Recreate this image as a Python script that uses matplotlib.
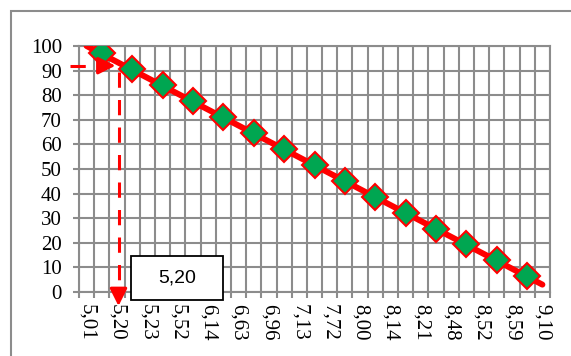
import numpy as np
import matplotlib.pyplot as plt
from matplotlib.patches import Rectangle

# Etiquetas del eje X (una de cada dos categorías)
x_labels = ['5,01', '5,20', '5,23', '5,52', '6,14', '6,63', '6,96', '7,13',
            '7,72', '8,00', '8,14', '8,21', '8,48', '8,52', '8,59', '9,10']
# Valores de los puntos (categorías impares)
values = [97, 90.5, 84, 77.5, 71, 64.5, 58, 51.5, 45, 38.5, 32, 25.5, 19.5, 13, 6.5]
# Recta de tendencia (primera y última categoría)
trend_values = [100, 3]
# Lectura marcada con flechas
read_label = '5,20'
read_value = 92

n_cat = 2 * len(x_labels) - 1
label_pos = np.arange(len(x_labels)) * 2 + 0.5
point_pos = np.arange(len(values)) * 2 + 1.5
trend_pos = [label_pos[0], label_pos[-1]]

grid_color = '#8c8c8c'
plt.rcParams['font.family'] = ['Liberation Serif', 'DejaVu Serif']

fig = plt.figure(figsize=(5.71, 3.56), dpi=100)
ax = fig.add_axes([79 / 571, 1 - 292 / 356, 471 / 571, 246 / 356])

ax.plot(trend_pos, trend_values, color='red', lw=4.3, solid_capstyle='round', zorder=3)
ax.plot(point_pos, values, ls='none', marker='D', ms=13.5, mfc='#00a651',
        mec='red', mew=1.5, zorder=4)

ax.set_xlim(0, n_cat)
ax.set_ylim(0, 100)

ax.set_xticks(np.arange(0, n_cat + 1), minor=True)
ax.set_xticks(label_pos, x_labels, rotation=-90, fontsize=15)
ax.set_yticks(np.arange(0, 101, 10))
ax.tick_params(axis='x', which='major', length=0, pad=9)
ax.tick_params(axis='x', which='minor', length=4.3, width=1.5, color=grid_color)
ax.tick_params(axis='y', length=4.3, width=1.5, color=grid_color, pad=8, labelsize=15)
ax.grid(axis='x', which='minor', color=grid_color, lw=1.5)
ax.grid(axis='y', which='major', color=grid_color, lw=1.5)
for s in ax.spines.values():
    s.set_color(grid_color)
    s.set_linewidth(1.5)
ax.set_axisbelow(True)

# Flechas de lectura
x_read = label_pos[x_labels.index(read_label)] + 0.1
head = dict(arrowstyle='-|>,head_length=0.8,head_width=0.4', color='red',
            lw=2.2, mutation_scale=13, shrinkA=0, shrinkB=0)
dash = dict(color='red', lw=2.2, dashes=(5, 4), clip_on=False, zorder=5)
ax.plot([-0.6, x_read - 1.0], [read_value, read_value], **dash)
ax.annotate('', xy=(x_read - 0.2, read_value), xytext=(x_read - 1.1, read_value),
            arrowprops=head, annotation_clip=False, zorder=5)
ax.plot([x_read, x_read], [read_value - 2.5, -0.5], **dash)
ax.annotate('', xy=(x_read, -5.7), xytext=(x_read, 0.5),
            arrowprops=head, annotation_clip=False, zorder=5)

# Cuadro con el valor leído
ax.add_patch(Rectangle((3.42, -3.25), 6.05, 17.85, facecolor='white',
                       edgecolor='black', lw=1.3, clip_on=False, zorder=6))
ax.text(6.45, 5.7, read_label, ha='center', va='center', fontsize=14,
        family='Liberation Sans', zorder=7, clip_on=False)

# Borde exterior del gráfico
fig.patches.append(Rectangle((10.5 / 571, -0.1), 1.2, 1 - 10.5 / 356 + 0.1,
                             transform=fig.transFigure, fill=False,
                             edgecolor=grid_color, lw=1.5))

fig.savefig('out.png', dpi=100)
